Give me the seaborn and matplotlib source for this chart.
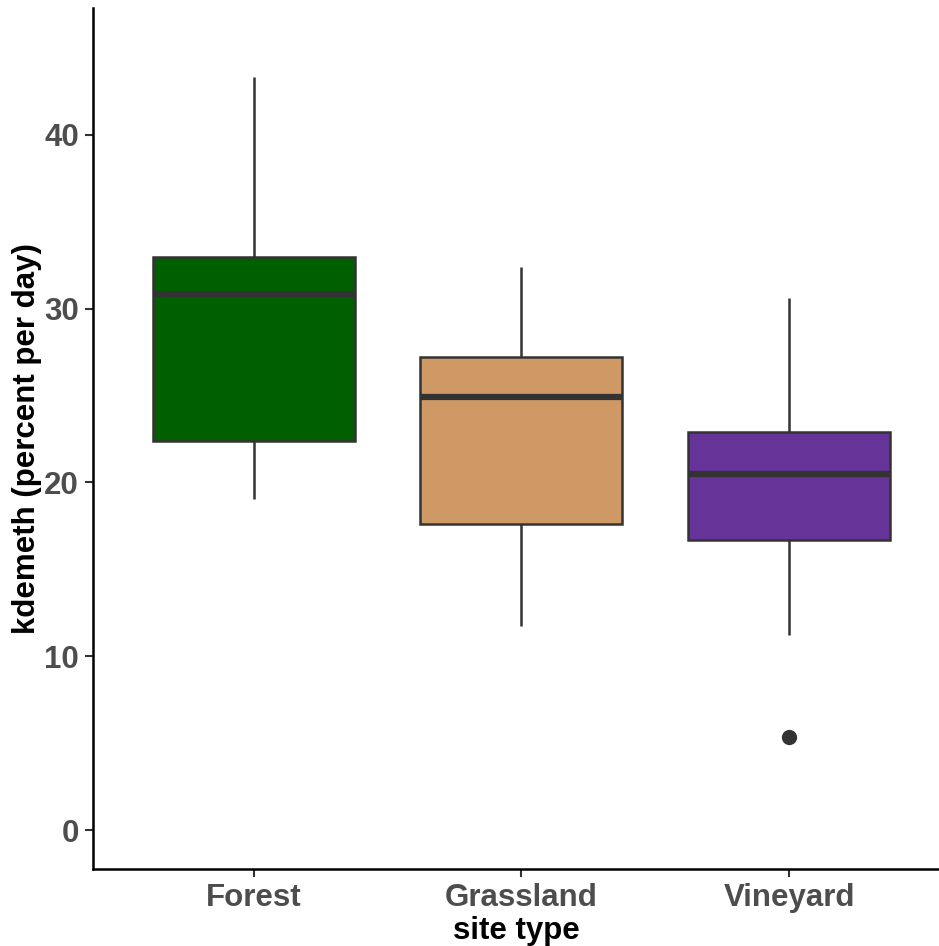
import matplotlib
matplotlib.use("Agg")
import matplotlib.pyplot as plt
import seaborn as sns
import pandas as pd

# Data (five-number summaries per site type)
site_types = ["Forest", "Grassland", "Vineyard"]
whisker_low = [19.05, 11.74, 11.22]
q1 = [22.39, 17.61, 16.69]
median = [30.85, 24.92, 20.49]
q3 = [32.98, 27.22, 22.91]
whisker_high = [43.34, 32.40, 30.62]
outlier_site = ["Vineyard"]
outlier_value = [5.35]
colors = ["#006000", "#CF9966", "#663399"]
yticks = [0, 10, 20, 30, 40]

rows = []
for i, s in enumerate(site_types):
    for v in (whisker_low[i], q1[i], median[i], q3[i], whisker_high[i]):
        rows.append({"site type": s, "kdemeth": v})
df = pd.DataFrame(rows)
out_df = pd.DataFrame({"site type": outlier_site, "kdemeth": outlier_value})

sns.set_theme(style="ticks")
plt.rcParams["font.family"] = ["Liberation Sans", "DejaVu Sans"]

fig = plt.figure(figsize=(9.39, 9.46), dpi=100)
ax = fig.add_axes([93 / 939, (946 - 869) / 946, (939 - 93) / 939, (869 - 8) / 946])

edge = "#333333"
sns.boxplot(data=df, x="site type", y="kdemeth", hue="site type",
            order=site_types, hue_order=site_types, palette=colors,
            width=0.755, whis=1.5, saturation=1, legend=False, ax=ax,
            linewidth=1.8, linecolor=edge, showfliers=False, showcaps=False,
            medianprops={"linewidth": 4.5, "color": edge})
sns.stripplot(data=out_df, x="site type", y="kdemeth", order=site_types,
              jitter=False, color=edge, size=11, ax=ax, zorder=5)

ax.set_xlim(-0.6, 2.56)
ax.set_ylim(-2.24, 47.3)
ax.set_yticks(yticks)
ax.set_yticklabels([str(t) for t in yticks])
for sp in ["top", "right"]:
    ax.spines[sp].set_visible(False)
for sp in ["left", "bottom"]:
    ax.spines[sp].set_color("black")
    ax.spines[sp].set_linewidth(1.8)
ax.tick_params(axis="both", length=6, width=1.5, color="#333333",
               labelsize=22.5, labelcolor="#4D4D4D", pad=4)
for lab in ax.get_xticklabels() + ax.get_yticklabels():
    lab.set_fontweight("bold")
ax.set_xlabel("site type", fontsize=22.5, fontweight="bold", color="black", labelpad=2)
ax.set_ylabel("kdemeth (percent per day)", fontsize=22.5, fontweight="bold", color="black", labelpad=2)

fig.savefig("out.png", dpi=100)
